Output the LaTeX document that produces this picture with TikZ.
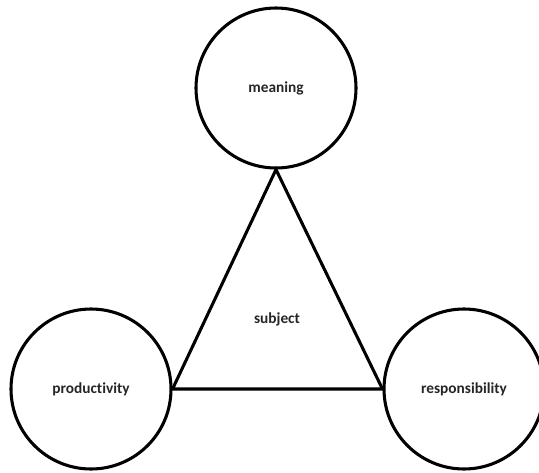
\documentclass[tikz,border=0pt]{standalone}
\usepackage{fontspec}
\setmainfont{Carlito}[Ligatures={NoCommon,NoRare}]
\begin{document}
\begin{tikzpicture}[
  x=0.75pt, y=-0.75pt,
  every node/.style={font=\bfseries\fontsize{11.5}{13}\selectfont, text=black!85},
  concept/.style={circle, draw=black, line width=2.3pt, inner sep=0pt, minimum size=120pt}
]
  \useasboundingbox (0,0) rectangle (539,472);

  % Conceptos en los vértices
  \node[concept] (meaning) at (276,88) {meaning};
  \node[concept] (productivity) at (91,389) {productivity};
  \node[concept] (responsibility) at (464,389) {responsibility};

  % Centro del triángulo
  \node (subject) at (277,319) {subject};

  % Triángulo entre los círculos
  \draw[line width=2.3pt, line join=miter] (meaning.south) -- (productivity.east) -- (responsibility.west) -- cycle;
\end{tikzpicture}
\end{document}
